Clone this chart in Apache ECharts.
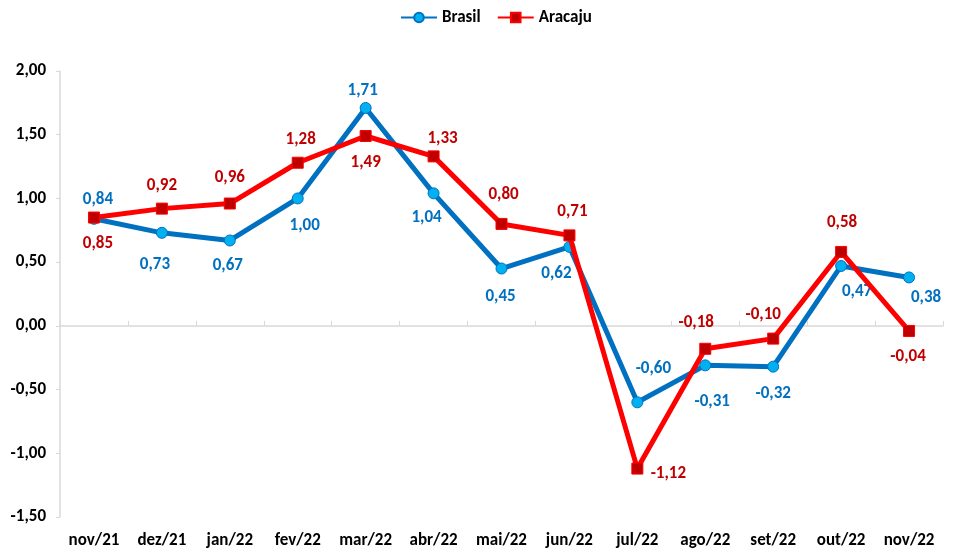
<!DOCTYPE html>
<html>
<head>
<meta charset="utf-8">
<script src="https://cdn.jsdelivr.net/npm/echarts@6/dist/echarts.min.js"></script>
<style>
html,body{margin:0;padding:0;background:#fff;}
#chart{width:954px;height:554px;}
</style>
</head>
<body>
<div id="chart"></div>
<script>
var categories = ['nov/21','dez/21','jan/22','fev/22','mar/22','abr/22','mai/22','jun/22','jul/22','ago/22','set/22','out/22','nov/22'];
var brasil = [0.84, 0.73, 0.67, 1.00, 1.71, 1.04, 0.45, 0.62, -0.60, -0.31, -0.32, 0.47, 0.38];
var aracaju = [0.85, 0.92, 0.96, 1.28, 1.49, 1.33, 0.80, 0.71, -1.12, -0.18, -0.10, 0.58, -0.04];
var yTicks = [-1.5, -1.0, -0.5, 0.0, 0.5, 1.0, 1.5, 2.0];

// label offsets (layout only), relative to point centre
var brasilLabelOffsets = [[4,-19],[-7,32],[-2,25],[7,27],[-3,-17],[-7,24],[-1,28],[-13,27],[16,-34],[7,36],[0,27],[16,26],[17,20]];
var aracajuLabelOffsets = [[4,26],[0,-23],[0,-26],[3,-23],[0,27],[9,-18],[2,-29],[3,-24],[31,5],[-9,-26],[-10,-24],[1,-29],[-1,26]];

var FONT = "Carlito, 'Liberation Sans Narrow', 'Liberation Sans', sans-serif";
function fmt(v){ return v.toFixed(2).replace('.', ','); }

function buildData(values, offsets){
  return values.map(function(v,i){
    return { value: v, label: { offset: offsets[i] } };
  });
}

var chart = echarts.init(document.getElementById('chart'));
chart.setOption({
  animation: false,
  backgroundColor: '#ffffff',
  textStyle: { fontFamily: FONT },
  legend: {
    top: 4,
    left: 395,
    itemWidth: 36,
    itemHeight: 12,
    itemGap: 16,
    textStyle: { fontFamily: FONT, fontWeight: 'bold', fontSize: 17, color: '#000' },
    data: ['Brasil', 'Aracaju']
  },
  grid: { left: 60, right: 11, top: 71, bottom: 37, containLabel: false },
  xAxis: [
    {
      type: 'category',
      data: categories,
      boundaryGap: true,
      axisLine: { onZero: true, lineStyle: { color: '#D9D9D9', width: 1.5 } },
      axisTick: { show: true, inside: true, length: 5, interval: 0, lineStyle: { color: '#D9D9D9' } },
      axisLabel: { show: false },
      splitLine: { show: false }
    },
    {
      type: 'category',
      data: categories,
      position: 'bottom',
      boundaryGap: true,
      axisLine: { show: false, onZero: false },
      axisTick: { show: false },
      axisLabel: { interval: 0, margin: 15, fontFamily: FONT, fontWeight: 'bold', fontSize: 17, color: '#000' },
      splitLine: { show: false }
    }
  ],
  yAxis: {
    type: 'value',
    min: -1.5,
    max: 2.0,
    interval: 0.5,
    axisLine: { show: true, lineStyle: { color: '#D9D9D9', width: 1.5 } },
    axisTick: { show: true, length: 4, lineStyle: { color: '#D9D9D9' } },
    splitLine: { show: false },
    axisLabel: {
      margin: 14,
      fontFamily: FONT, fontWeight: 'bold', fontSize: 17, color: '#000',
      formatter: function(v){ return fmt(v); }
    }
  },
  series: [
    {
      name: 'Brasil',
      type: 'line',
      xAxisIndex: 0,
      data: buildData(brasil, brasilLabelOffsets),
      symbol: 'circle',
      symbolSize: 11,
      lineStyle: { color: '#0070C0', width: 5 },
      itemStyle: { color: '#00B0F0', borderColor: '#0070C0', borderWidth: 1 },
      label: {
        show: true, position: 'inside',
        fontFamily: FONT, fontWeight: 'bold', fontSize: 17, color: '#0070C0',
        formatter: function(p){ return fmt(p.value); }
      },
      z: 2
    },
    {
      name: 'Aracaju',
      type: 'line',
      xAxisIndex: 0,
      data: buildData(aracaju, aracajuLabelOffsets),
      symbol: 'rect',
      symbolSize: 11,
      lineStyle: { color: '#FF0000', width: 5 },
      itemStyle: { color: '#C00000', borderColor: '#FF0000', borderWidth: 1 },
      label: {
        show: true, position: 'inside',
        fontFamily: FONT, fontWeight: 'bold', fontSize: 17, color: '#C00000',
        formatter: function(p){ return fmt(p.value); }
      },
      z: 3
    }
  ]
});
</script>
</body>
</html>
